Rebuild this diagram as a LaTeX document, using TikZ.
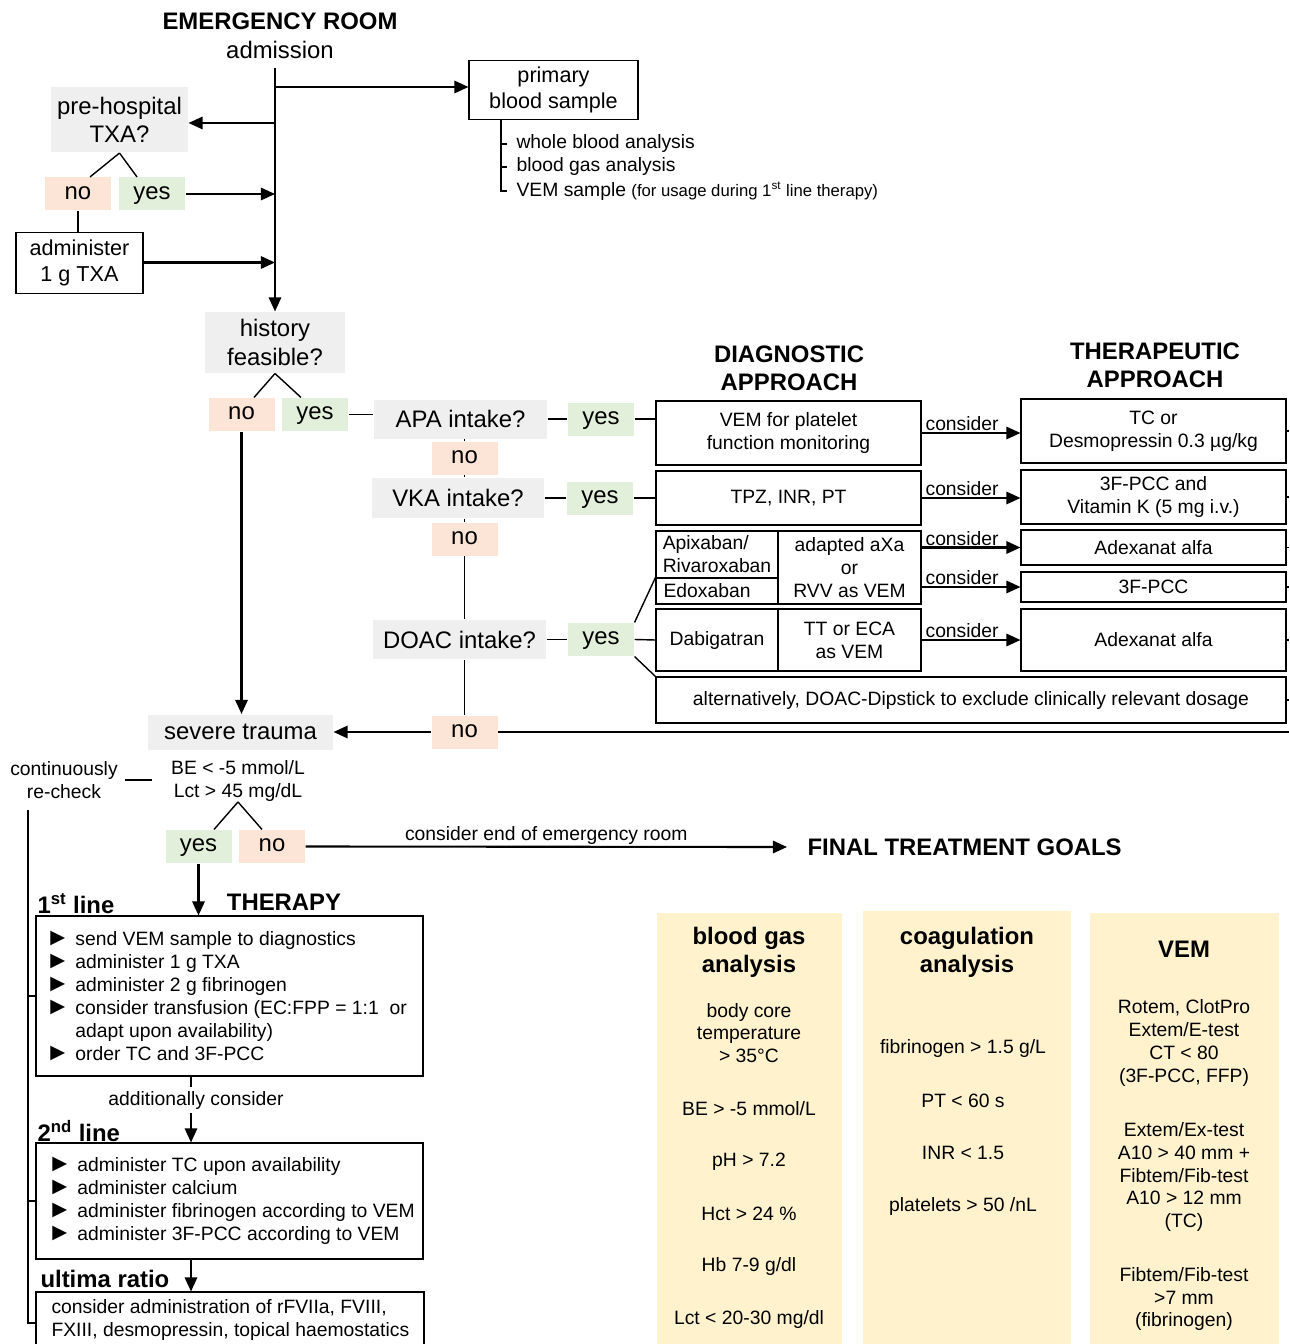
\documentclass[tikz,border=0pt]{standalone}
\usepackage{fontspec}
\setmainfont{Liberation Sans}
\usepackage{xcolor}
\usetikzlibrary{arrows.meta,arrows,positioning,shapes,calc}

\definecolor{qgray}{HTML}{EFEFEF}
\definecolor{nofill}{HTML}{FCE4D6}
\definecolor{yesfill}{HTML}{E2EFDA}
\definecolor{goalfill}{HTML}{FFF2CC}

\newcommand{\fbig}{\fontsize{13.6}{16.2}\selectfont}
\newcommand{\fmid}{\fontsize{12.3}{14.6}\selectfont}
\newcommand{\fnorm}{\fontsize{11}{13}\selectfont}
\newcommand{\fsmall}{\fontsize{9.5}{11}\selectfont}
\newcommand{\itm}{\makebox[17pt][l]{\fontsize{14}{13}\selectfont ►}}

\tikzset{wh/.style 2 args={minimum width=#1*0.02cm, minimum height=#2*0.02cm}}

\begin{document}
\begin{tikzpicture}[
            x = 0.02cm, y = -0.02cm, % pixel grid, y pointing down
            > = {Triangle[length=8pt, width=7pt]}, % arrow head style
            line width = 0.6pt, % box borders
            font = \fnorm
        ]

        \tikzstyle{question}=[fill = qgray, inner sep = 0pt, align = center, font = \fbig]
        \tikzstyle{nobox}=[fill = nofill, inner sep = 0pt, font = \fbig, text height = 6.2pt, text depth = 0pt, wh={66}{33}]
        \tikzstyle{yesbox}=[fill = yesfill, inner sep = 0pt, font = \fbig, text height = 6.2pt, text depth = 0pt, wh={66}{33}]
        \tikzstyle{frame}=[draw, inner sep = 0pt, align = center]
        \tikzstyle{goal}=[fill = goalfill, inner sep = 0pt]
        \tikzstyle{goaltext}=[inner sep = 0pt, align = center]
        \tikzstyle{bold}=[font = \fbig\bfseries, inner sep = 0pt, align = center]
        \tikzstyle{conn}=[line width = 0.8pt]
        \tikzstyle{flow}=[->, line width = 1.2pt]
        \tikzstyle{lbl}=[above, inner sep = 0.5pt, pos = 0.41]

        \useasboundingbox (0,0) rectangle (1289,1344);

        % Admission
        \node[bold] (er) [at={(280,21)}] {EMERGENCY ROOM};
        \node[font = \fbig, inner sep = 0pt] (adm) [at={(280,50)}] {admission};
        \coordinate (m0) at (275,68);
        \coordinate (m1) at (275,87);
        \coordinate (m2) at (275,123);
        \coordinate (m3) at (275,194);
        \coordinate (m4) at (275,262.5);
        \node[frame, font = \fmid, wh={169}{59}] (prim) [at={(553.5,90)}] {primary\\blood sample};
        \node[inner sep = 0pt, anchor = west] (w1) [at={(516,144)}] {whole blood analysis};
        \node[inner sep = 0pt, anchor = west] (w2) [at={(516,167)}] {blood gas analysis};
        \node[inner sep = 0pt, anchor = west] (w3) [at={(516,191)}] {VEM sample {\fsmall (for usage during 1\textsuperscript{st} line therapy)}};
        \coordinate (bx) at (501,119.5);
        \node[question, wh={137}{65}] (pre) [at={(119.5,120)}] {pre-hospital\\TXA?};
        \node[nobox] (preno) [at={(78,194)}] {no};
        \node[yesbox] (preyes) [at={(152,194)}] {yes};
        \node[frame, font = \fmid, wh={127}{61}] (txa) [at={(79.5,263)}] {administer\\1 g TXA};

        % History
        \node[question, wh={140}{61}] (hist) [at={(275,342.5)}] {history\\feasible?};
        \node[nobox] (histno) [at={(241.5,414.5)}] {no};
        \node[yesbox] (histyes) [at={(315,414.5)}] {yes};
        \node[question, wh={173}{39}] (apa) [at={(460.5,419)}] {APA intake?};
        \node[yesbox] (apayes) [at={(601,419)}] {yes};
        \node[nobox] (apano) [at={(464.5,458)}] {no};
        \node[question, wh={172}{40}] (vka) [at={(458,498)}] {VKA intake?};
        \node[yesbox] (vkayes) [at={(600,498)}] {yes};
        \node[nobox] (vkano) [at={(464.5,539)}] {no};
        \node[question, wh={173}{39}] (doac) [at={(459.5,639.5)}] {DOAC intake?};
        \node[yesbox] (doacyes) [at={(601,639.5)}] {yes};
        \node[nobox] (doacno) [at={(464.5,732)}] {no};
        \node[question, wh={185}{35}] (trauma) [at={(240.5,732)}] {severe trauma};

        % Diagnostic approach
        \node[bold] (diag) [at={(789,368.5)}] {DIAGNOSTIC\\APPROACH};
        \node[frame, wh={265}{64}] (vemd) [at={(788.5,433)}] {VEM for platelet\\function monitoring};
        \node[frame, wh={265}{54}] (tpz) [at={(788.5,498)}] {TPZ, INR, PT};
        \node[frame, wh={122}{47}, align = left] (apix) [at={(717,554.5)}] {Apixaban/\\Rivaroxaban};
        \node[frame, wh={122}{26}, text width = 2.14cm, align = left] (edox) [at={(717,591)}] {Edoxaban};
        \node[frame, wh={143}{73}] (xar) [at={(849.5,567.5)}] {adapted aXa\\or\\RVV as VEM};
        \node[frame, wh={122}{62}] (dabi) [at={(717,640)}] {Dabigatran};
        \node[frame, wh={143}{62}] (tt) [at={(849.5,640)}] {TT or ECA\\as VEM};
        \node[frame, wh={630}{46}] (alt) [at={(971,700)}] {alternatively, DOAC-Dipstick to exclude clinically relevant dosage};

        % Therapeutic approach
        \node[bold] (ther) [at={(1155,365.5)}] {THERAPEUTIC\\APPROACH};
        \node[frame, wh={265}{64}] (tc) [at={(1153.5,431)}] {TC or\\Desmopressin 0.3 µg/kg};
        \node[frame, wh={265}{54}] (vitk) [at={(1153.5,497)}] {3F-PCC and\\Vitamin K (5 mg i.v.)};
        \node[frame, wh={265}{35}] (adex1) [at={(1153.5,547.5)}] {Adexanat alfa};
        \node[frame, wh={265}{30}] (pcc) [at={(1153.5,587)}] {3F-PCC};
        \node[frame, wh={265}{62}] (adex2) [at={(1153.5,640)}] {Adexanat alfa};
        \coordinate (rim) at (1289,0);

        % Trauma check
        \node[inner sep = 0pt, align = center] (recheck) [at={(64,780)}] {continuously\\re-check};
        \node[inner sep = 0pt, align = center] (cond) [at={(238,781)}] {BE < -5 mmol/L\\Lct > 45 mg/dL};
        \node[yesbox] (beyes) [at={(198.5,846.5)}] {yes};
        \node[nobox] (beno) [at={(272,846.5)}] {no};
        \node[bold, anchor = west] (final) [at={(807,847)}] {FINAL TREATMENT GOALS};

        % Therapy
        \node[bold, anchor = west] (l1) [at={(37,904)}] {1\textsuperscript{st} line};
        \node[bold] (thera) [at={(284,902)}] {THERAPY};
        \node[frame, wh={387}{160}] (first) [at={(229.5,996)}] {};
        \node[inner sep = 0pt, align = left, anchor = west] (list1) [at={(45,996)}] {\itm send VEM sample to diagnostics\\
            \itm administer 1 g TXA\\
            \itm administer 2 g fibrinogen\\
            \itm consider transfusion (EC:FPP = 1:1~~or\\
            \hspace*{17pt}adapt upon availability)\\
            \itm order TC and 3F-PCC};
        \coordinate (ax) at (191,1100);
        \node[inner sep = 2pt] (addc) [at={(196,1100)}] {additionally consider};
        \node[bold, anchor = west] (l2) [at={(37,1131)}] {2\textsuperscript{nd} line};
        \node[frame, wh={387}{116}] (second) [at={(229.5,1201)}] {};
        \node[inner sep = 0pt, align = left, anchor = west] (list2) [at={(47,1201)}] {\itm administer TC upon availability\\
            \itm administer calcium\\
            \itm administer fibrinogen according to VEM\\
            \itm administer 3F-PCC according to VEM};
        \node[bold, anchor = west] (l3) [at={(40,1279)}] {ultima ratio};
        \node[frame, wh={388}{62}] (ultima) [at={(230,1323)}] {};
        \node[inner sep = 0pt, align = left, anchor = west] (list3) [at={(51,1320)}] {consider administration of rFVIIa, FVIII,\\FXIII, desmopressin, topical haemostatics};
        \coordinate (rc) at (28,810);

        % Final treatment goals
        \node[goal, wh={185}{437}] (gas) [at={(749.5,1131.5)}] {};
        \node[goal, wh={208}{439}] (coag) [at={(967,1130.5)}] {};
        \node[goal, wh={189}{437}] (vemg) [at={(1184.5,1131.5)}] {};
        \node[bold] (gash) [at={(749,952.5)}] {blood gas\\analysis};
        \node[goaltext] (gas1) [at={(749,1033)}] {body core\\temperature\\> 35°C};
        \node[goaltext] (gas2) [at={(749,1109)}] {BE > -5 mmol/L};
        \node[goaltext] (gas3) [at={(749,1162)}] {pH > 7.2};
        \node[goaltext] (gas4) [at={(749,1214)}] {Hct > 24 \%};
        \node[goaltext] (gas5) [at={(749,1266)}] {Hb 7-9 g/dl};
        \node[goaltext] (gas6) [at={(749,1319)}] {Lct < 20-30 mg/dl};
        \node[bold] (coagh) [at={(967,952.5)}] {coagulation\\analysis};
        \node[goaltext] (coag1) [at={(963,1048)}] {fibrinogen > 1.5 g/L};
        \node[goaltext] (coag2) [at={(963,1101)}] {PT < 60 s};
        \node[goaltext] (coag3) [at={(963,1153)}] {INR < 1.5};
        \node[goaltext] (coag4) [at={(963,1206)}] {platelets > 50 /nL};
        \node[bold] (vemh) [at={(1184,949)}] {VEM};
        \node[goaltext] (vem1) [at={(1184,1043)}] {Rotem, ClotPro\\Extem/E-test\\CT < 80\\(3F-PCC, FFP)};
        \node[goaltext] (vem2) [at={(1184,1177)}] {Extem/Ex-test\\A10 > 40 mm +\\Fibtem/Fib-test\\A10 > 12 mm\\(TC)};
        \node[goaltext] (vem3) [at={(1184,1299)}] {Fibtem/Fib-test\\>7 mm\\(fibrinogen)};

        % Admission connectors
        \draw[flow] (m0) -- (hist.north);
        \draw[flow] (m1) -- (m1 -| prim.west);
        \draw[flow] (m2) -- (m2 -| pre.east);
        \draw[flow] (preyes.east) -- (m3);
        \draw[flow] (m4 -| txa.east) -- (m4);
        \draw[conn] (pre.south) -- ([xshift=0.24cm]preno.north);
        \draw[conn] (pre.south) -- ([xshift=-0.3cm]preyes.north);
        \draw[conn] (preno.south) -- (preno.south |- txa.north);
        \draw[conn] (bx) -- (bx |- w3.west) -- ([xshift=-0.18cm]w3.west);
        \draw[conn] (bx |- w1.west) -- ([xshift=-0.18cm]w1.west);
        \draw[conn] (bx |- w2.west) -- ([xshift=-0.18cm]w2.west);

        % History connectors
        \draw[conn] (hist.south) -- ([xshift=0.25cm]histno.north);
        \draw[conn] (hist.south) -- ([xshift=-0.28cm]histyes.north);
        \draw[flow] (histno.south) -- (histno.south |- trauma.north);
        \draw[conn] (histyes.east) -- (histyes.east -| apa.west);
        \draw[conn] (apa.east) -- (apayes.west);
        \draw[conn] (apayes.east) -- (apayes.east -| vemd.west);
        \draw[conn] (apano.north) -- (apano.north |- apa.south);
        \draw[conn] (apano.south) -- (apano.south |- vka.north);
        \draw[conn] (vka.east) -- (vkayes.west);
        \draw[conn] (vkayes.east) -- (vkayes.east -| tpz.west);
        \draw[conn] (vkano.north) -- (vkano.north |- vka.south);
        \draw[conn] (vkano.south) -- (vkano.south |- doac.north);
        \draw[conn] (doac.east) -- (doacyes.west);
        \draw[conn] (doacyes.north east) -- (edox.north west);
        \draw[conn] (doacyes.east) -- (dabi.west);
        \draw[conn] (doacyes.south east) -- (alt.north west);
        \draw[conn] (doacno.north) -- (doacno.north |- doac.south);
        \draw[flow] (doacno.west) -- (trauma.east);
        \draw[conn] (doacno.east) -- (doacno.east -| rim);

        % Consider arrows
        \draw[flow] (vemd.east) -- node[lbl] {consider} (vemd.east -| tc.west);
        \draw[flow] (tpz.east) -- node[lbl] {consider} (tpz.east -| vitk.west);
        \draw[flow] (xar.east |- adex1.west) -- node[lbl] {consider} (adex1.west);
        \draw[flow] (xar.east |- pcc.west) -- node[lbl] {consider} (pcc.west);
        \draw[flow] (tt.east) -- node[lbl] {consider} (adex2.west);
        \draw[conn] (tc.east) -- (tc.east -| rim);
        \draw[conn] (vitk.east) -- (vitk.east -| rim);
        \draw[conn] (adex1.east) -- (adex1.east -| rim);
        \draw[conn] (pcc.east) -- (pcc.east -| rim);
        \draw[conn] (adex2.east) -- (adex2.east -| rim);
        \draw[conn] (alt.east) -- (alt.east -| rim);

        % Trauma and therapy connectors
        \draw[conn] ([xshift=0.14cm]recheck.east) -- ([xshift=-0.38cm]recheck.east -| cond.west);
        \draw[conn] (cond.south) -- ([xshift=0.31cm]beyes.north);
        \draw[conn] (cond.south) -- ([xshift=-0.2cm]beno.north);
        \draw[flow] (beno.east) -- node[above, inner sep = 0.5pt] {consider end of emergency room} ([xshift=-0.4cm]final.west);
        \draw[flow] (beyes.south) -- (beyes.south |- first.north);
        \draw[conn] (first.south -| ax) -- (addc.north -| ax);
        \draw[flow] (addc.south -| ax) -- (second.north -| ax);
        \draw[flow] (second.south -| ax) -- (ultima.north -| ax);
        \draw[conn] (rc) -- (rc |- ultima.west) -- (ultima.west);
        \draw[conn] (rc |- first.west) -- (first.west);
        \draw[conn] (rc |- second.west) -- (second.west);
      \end{tikzpicture}
\end{document}
